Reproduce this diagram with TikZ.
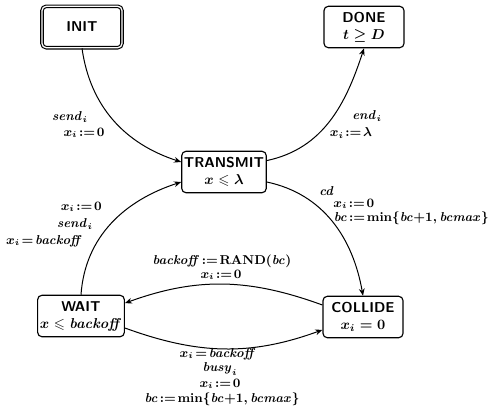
\documentclass[tikz,border=0pt]{standalone}
\usepackage{amsmath,amssymb}
\usetikzlibrary{arrows.meta}
\begin{document}
\begin{tikzpicture}[x=0.7pt,y=-0.7pt,
  state/.style={draw, rounded corners=3pt, line width=0.8pt, minimum width=56pt,
    minimum height=29pt, inner sep=1.5pt, align=center, font=\sffamily\bfseries\boldmath},
  initstate/.style={state, double, double distance=0.9pt, line width=0.8pt},
  edge/.style={line width=0.7pt, -{Stealth[length=5pt,width=4pt]}},
  lbl/.style={font=\fontsize{9}{10.5}\selectfont\boldmath, inner sep=0pt}]
\useasboundingbox (0,0) rectangle (492,414);

% states
\node[initstate] (init) at (82,27) {INIT};
\node[state] (done) at (364,27) {DONE\\$t\geq D$};
\node[state] (transmit) at (224,172) {TRANSMIT\\$x\leqslant\lambda$};
\node[state] (wait) at (81,316) {WAIT\\$x\leqslant \mathit{backoff}$};
\node[state] (collide) at (363,317) {COLLIDE\\$x_i=0$};

% transitions
\draw[edge] (init.south) to[out=-82,in=162] ([yshift=7pt]transmit.west);
\draw[edge] ([yshift=8pt]transmit.east) to[out=12,in=-108] (done.south);
\draw[edge] ([yshift=-7pt]transmit.east) to[out=-12,in=100] (collide.north);
\draw[edge] (wait.north) to[out=86,in=198] ([yshift=-7pt]transmit.west);
\draw[edge] ([yshift=8.4pt]collide.west) to[out=160,in=20] ([yshift=9pt]wait.east);
\draw[edge] ([yshift=-8.4pt]wait.east) to[out=-20,in=200] ([yshift=-9pt]collide.west);

% labels: INIT -> TRANSMIT
\node[lbl] (l1a) at (70,117) {$\mathit{send}_i$};
\node[lbl] (l1b) at (84,133) {$x_i\!:=\!0$};
% TRANSMIT -> DONE
\node[lbl] (l2a) at (367,116) {$\mathit{end}_i$};
\node[lbl] (l2b) at (351,133) {$x_i\!:=\!\lambda$};
% TRANSMIT -> COLLIDE
\node[lbl, anchor=west] (l3a) at (319,191) {$\mathit{cd}$};
\node[lbl, anchor=west] (l3b) at (333,204) {$x_i\!:=\!0$};
\node[lbl, anchor=east] (l3c) at (489,218) {$\mathit{bc}\!:=\!\min\{\mathit{bc}{+}1,\mathit{bcmax}\}$};
% WAIT -> TRANSMIT
\node[lbl, anchor=east] (l4a) at (102,207) {$x_i\!:=\!0$};
\node[lbl, anchor=east] (l4b) at (93,224) {$\mathit{send}_i$};
\node[lbl, anchor=east] (l4c) at (83,241) {$x_i\!=\!\mathit{backoff}$};
% COLLIDE -> WAIT
\node[lbl] (l5a) at (222,261) {$\mathit{backoff}\!:=\!\mathbf{RAND}(\mathit{bc})$};
\node[lbl] (l5b) at (221,275) {$x_i\!:=\!0$};
% WAIT -> COLLIDE
\node[lbl] (l6a) at (218,354) {$x_i\!=\!\mathit{backoff}$};
\node[lbl] (l6b) at (220,369) {$\mathit{busy}_i$};
\node[lbl] (l6c) at (220,384) {$x_i\!:=\!0$};
\node[lbl] (l6d) at (222,399) {$\mathit{bc}\!:=\!\min\{\mathit{bc}{+}1,\mathit{bcmax}\}$};
\end{tikzpicture}
\end{document}
